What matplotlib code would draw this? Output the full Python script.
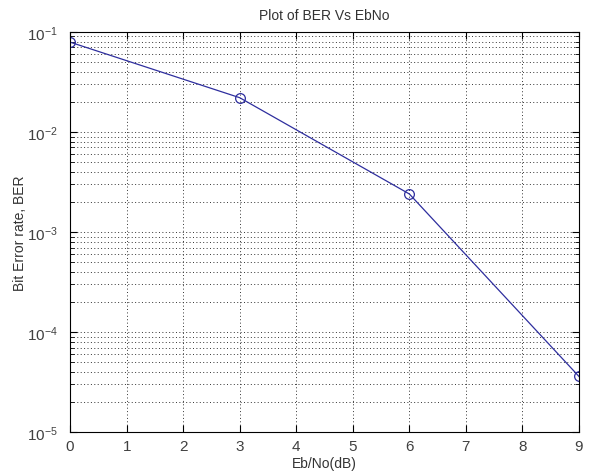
import numpy as np
import matplotlib.pyplot as plt
from matplotlib.ticker import LogLocator, NullFormatter

ebno = [0, 3, 6, 9]
ber = [0.079, 0.022, 0.0024, 3.6e-5]
yticks = [1e-5, 1e-4, 1e-3, 1e-2, 1e-1]

plt.rcParams['font.family'] = ['Liberation Sans', 'DejaVu Sans']

fig = plt.figure(figsize=(5.89, 4.77), dpi=100, facecolor='white')
ax = fig.add_axes([0.119, 0.092, 0.864, 0.839])

ax.semilogy(ebno, ber, '-o', color='#2e2e9e', linewidth=0.9,
            markersize=7, markerfacecolor='none', markeredgewidth=0.9)

ax.set_xlim(0, 9)
ax.set_ylim(1e-5, 1e-1)
ax.set_xticks(range(10))
ax.set_yticks(yticks)
ax.yaxis.set_minor_locator(LogLocator(base=10, subs=np.arange(2, 10)))
ax.yaxis.set_minor_formatter(NullFormatter())

# matlab-ish dotted grid
ax.grid(True, which='major', linestyle=(0, (1, 2.5)), color='#333333', linewidth=0.7)
ax.grid(True, which='minor', axis='y', linestyle=(0, (1, 2.5)), color='#333333', linewidth=0.7)

ax.tick_params(which='both', direction='in', top=True, right=True,
               labelsize=11, labelcolor='#404040')
ax.tick_params(which='major', length=5)
ax.tick_params(which='minor', length=3)
ax.tick_params(axis='y', pad=9)
ax.tick_params(axis='x', pad=5)
for s in ax.spines.values():
    s.set_linewidth(0.8)

ax.set_title('Plot of BER Vs EbNo', fontsize=10, pad=9, color='#333333')
ax.set_xlabel('Eb/No(dB)', fontsize=10, labelpad=2, color='#333333')
ax.set_ylabel('Bit Error rate, BER', fontsize=10, labelpad=0, color='#333333')

fig.savefig('out.png', dpi=100, facecolor='white')
